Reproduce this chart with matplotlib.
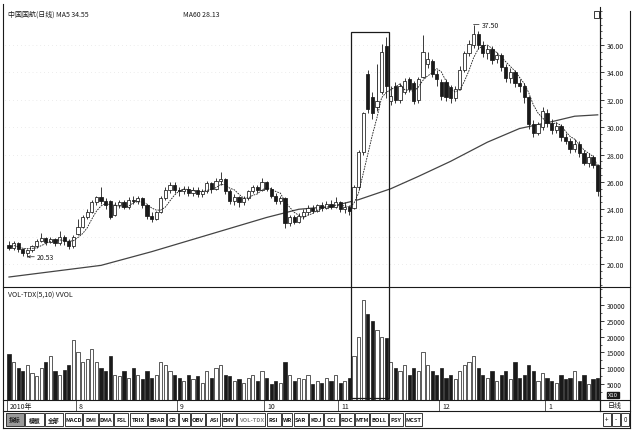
import matplotlib

matplotlib.use("Agg")
import matplotlib.pyplot as plt
import pandas as pd
from matplotlib.patches import Rectangle
from matplotlib.lines import Line2D
from matplotlib.ticker import MultipleLocator, FixedLocator
from matplotlib.transforms import blended_transform_factory

plt.rcParams["font.family"] = ["Noto Sans CJK SC", "DejaVu Sans"]

# daily candles, Jul 2010 - Jan 2011
opens = [21.4, 21.2, 21.5, 21.1, 20.8, 21.0, 21.3, 21.7, 21.9, 21.6, 21.8, 21.5, 22.0, 21.7, 21.3,
         22.2, 22.7, 23.4, 23.8, 24.5, 24.9, 24.6, 24.6, 23.6, 24.3, 24.5, 24.2, 24.7, 24.6, 24.8,
         24.3, 23.5, 23.3, 23.8, 24.8, 25.4, 25.8, 25.4, 25.3, 25.5, 25.2, 25.4, 25.1, 25.3, 25.9,
         25.5, 26.1, 26.2, 25.3, 24.6, 24.9, 24.5, 24.8, 25.3, 25.6, 25.4, 26.0, 25.5, 25.0, 24.6,
         24.8, 23.0, 23.4, 23.1, 23.5, 23.8, 24.1, 23.9, 24.3, 24.1, 24.4, 24.2, 24.5, 24.0, 24.2,
         24.1, 25.6, 28.2, 33.9, 32.2, 31.5, 32.6, 35.9, 31.9, 33.0, 32.0, 32.6, 33.5, 33.2, 32.0,
         33.7, 34.6, 34.8, 33.9, 33.3, 33.3, 32.9, 32.1, 32.8, 34.2, 35.4, 36.0, 36.8, 36.0, 35.4,
         35.7, 35.0, 35.3, 34.4, 33.6, 34.0, 33.2, 33.0, 32.2, 30.2, 29.6, 30.0, 31.0, 30.3, 29.8,
         30.1, 29.3, 29.0, 28.4, 28.8, 28.1, 27.4, 27.8, 27.2]
closes = [21.2, 21.5, 21.1, 20.8, 21.0, 21.3, 21.7, 21.9, 21.6, 21.8, 21.5, 22.0, 21.7, 21.3, 22.0,
          22.7, 23.4, 23.8, 24.5, 24.9, 24.6, 24.3, 23.4, 24.3, 24.5, 24.2, 24.7, 24.6, 24.8, 24.3,
          23.5, 23.3, 23.8, 24.8, 25.4, 25.8, 25.4, 25.3, 25.5, 25.2, 25.4, 25.1, 25.3, 25.9, 25.5,
          26.1, 26.2, 25.3, 24.6, 24.9, 24.5, 24.8, 25.3, 25.6, 25.4, 26.0, 25.5, 25.0, 24.6, 24.8,
          23.0, 23.4, 23.1, 23.5, 23.8, 24.1, 23.9, 24.3, 24.1, 24.4, 24.2, 24.5, 24.0, 24.2, 23.9,
          25.6, 28.2, 31.0, 31.3, 31.0, 31.9, 35.5, 33.0, 32.3, 32.0, 33.0, 33.4, 32.8, 31.9, 33.5,
          35.5, 35.0, 33.9, 33.5, 32.3, 32.2, 32.1, 32.8, 34.2, 35.4, 36.1, 36.8, 36.0, 35.4, 35.7,
          34.9, 35.3, 34.4, 33.6, 34.0, 33.2, 33.0, 32.2, 30.2, 29.6, 30.2, 31.2, 30.3, 29.8, 30.1,
          29.3, 29.0, 28.4, 28.8, 28.1, 27.4, 27.8, 27.2, 25.3]
highs = [21.7, 21.7, 21.6, 21.2, 21.1, 21.4, 21.8, 22.3, 22.0, 22.0, 21.9, 22.4, 22.1, 21.8, 22.1,
         23.3, 23.6, 24.0, 24.7, 25.0, 25.6, 24.8, 24.7, 24.5, 24.7, 24.7, 24.9, 25.0, 25.0, 24.9,
         24.4, 23.8, 23.9, 25.0, 25.6, 26.0, 26.0, 25.6, 25.7, 25.7, 25.6, 25.6, 25.5, 26.1, 26.0,
         26.3, 26.7, 26.3, 25.5, 25.1, 25.0, 25.0, 25.4, 25.8, 25.8, 26.3, 26.1, 25.6, 25.2, 25.0,
         24.9, 23.6, 23.6, 23.7, 24.0, 24.3, 24.3, 24.4, 24.5, 24.6, 24.7, 24.9, 24.6, 24.5, 24.3,
         25.8, 28.3, 31.1, 34.2, 32.6, 34.6, 36.1, 36.6, 33.0, 33.3, 33.2, 33.6, 33.7, 33.4, 33.7,
         36.7, 35.5, 35.0, 34.2, 33.5, 33.5, 33.1, 33.0, 34.5, 35.6, 36.4, 37.5, 37.0, 36.3, 36.0,
         35.9, 35.5, 35.4, 34.6, 34.3, 34.2, 33.5, 33.2, 32.3, 30.5, 30.4, 31.5, 31.3, 30.6, 30.4,
         30.2, 29.6, 29.2, 29.1, 29.0, 28.3, 28.1, 28.0, 27.3]
lows = [21.0, 21.0, 20.9, 20.6, 20.53, 20.9, 21.2, 21.6, 21.4, 21.5, 21.3, 21.4, 21.4, 21.1, 21.2,
        22.1, 22.6, 23.3, 23.7, 24.3, 24.4, 24.0, 23.3, 23.5, 24.1, 24.0, 24.0, 24.4, 24.4, 24.1,
        23.3, 23.1, 23.2, 23.7, 24.7, 25.2, 25.2, 25.0, 25.1, 25.0, 25.0, 24.9, 24.9, 25.2, 25.2,
        25.4, 25.8, 25.1, 24.4, 24.3, 24.2, 24.3, 24.7, 25.2, 25.2, 25.3, 25.3, 24.8, 24.4, 24.4,
        22.6, 22.8, 22.9, 23.0, 23.3, 23.6, 23.7, 23.8, 23.9, 24.0, 24.0, 24.1, 23.8, 23.7, 23.6,
        24.0, 25.5, 28.0, 31.0, 30.6, 31.2, 32.4, 32.1, 31.6, 31.8, 31.8, 32.4, 32.6, 31.7, 31.8,
        33.6, 34.3, 33.7, 33.0, 32.0, 31.9, 31.8, 31.9, 32.7, 34.0, 35.2, 35.8, 35.7, 35.1, 35.0,
        34.6, 34.7, 34.1, 33.3, 33.2, 32.9, 32.6, 31.8, 29.9, 29.3, 29.4, 29.8, 30.0, 29.5, 29.6,
        29.0, 28.8, 28.1, 28.2, 27.8, 27.2, 27.1, 27.0, 25.0]
volumes = [14500, 12000, 10000, 9000, 11000, 8500, 7500, 10000, 12000, 14000, 9000, 8000, 9500, 11000, 19000,
           15000, 12000, 13000, 16000, 12000, 10000, 9000, 14000, 8000, 7500, 9000, 7000, 10000, 8000, 6500,
           9000, 7000, 8000, 12000, 11000, 9000, 8000, 7000, 6000, 8000, 6500, 7500, 5500, 9000, 7000,
           10000, 11000, 8000, 7500, 6000, 6500, 5500, 7000, 8000, 6000, 9000, 7000, 5000, 6000, 5500,
           12000, 8000, 6000, 7000, 6500, 8000, 5000, 6000, 5500, 7000, 6000, 8000, 5500, 6000, 7000,
           14000, 20000, 31500, 27000, 25000, 22000, 20000, 19500, 12000, 10000, 9000, 11000, 8000, 10000, 9000,
           15000, 11000, 9000, 8000, 10000, 7000, 8000, 6500, 9000, 11000, 12000, 14000, 10000, 8000, 7000,
           9000, 6000, 8000, 9000, 6500, 12000, 7000, 8000, 11000, 9000, 6000, 8500, 7000, 6000, 5500,
           8000, 6500, 7000, 9000, 6000, 8000, 5000, 6500, 7000]

# long moving average, read at a few points
ma60_idx = [0, 20, 31, 41, 56, 63, 70, 76, 83, 89, 96, 104, 111, 118, 123, 128]
ma60_val = [19.05, 19.9, 20.9, 21.9, 23.4, 24.0, 24.2, 24.7, 25.5, 26.4, 27.5, 28.9, 29.9, 30.4, 30.8, 30.9]

month_labels = ["2010年", "8", "9", "10", "11", "12", "1"]
month_start = [0, 15, 37, 56, 72, 94, 117]
price_ticks = [20, 22, 24, 26, 28, 30, 32, 34, 36]
vol_ticks = [5000, 10000, 15000, 20000, 25000, 30000]
tabs = ["指标", "模板", "全部", "MACD", "DMI", "DMA", "FSL", "TRIX", "BRAR", "CR", "VR", "OBV",
        "ASI", "EMV", "VOL-TDX", "RSI", "WR", "SAR", "KDJ", "CCI", "ROC", "MTM", "BOLL", "PSY", "MCST"]
box_first, box_last = 75, 82

W, H = 640, 435
INK = "#1a1a1a"


def fx(px):
    return px / W


def fy(py):
    return 1 - py / H


def fline(fig, x0, y0, x1, y1, lw=0.8, color=INK):
    fig.add_artist(Line2D([fx(x0), fx(x1)], [fy(y0), fy(y1)], lw=lw, color=color,
                          transform=fig.transFigure))


fig = plt.figure(figsize=(W / 100, H / 100), dpi=100)
fig.patch.set_facecolor("white")

n = len(closes)
x = list(range(n))
xlim = (-0.87, 128.5)

ax = fig.add_axes([fx(5), fy(288), fx(600) - fx(5), fy(8) - fy(288)])
axv = fig.add_axes([fx(5), fy(401), fx(600) - fx(5), fy(288) - fy(401)])
axd = fig.add_axes([fx(5), fy(412), fx(600) - fx(5), fy(401) - fy(412)])

for a in (ax, axv, axd):
    a.set_xlim(*xlim)
    a.set_facecolor("white")
    for s in ("top", "bottom", "left"):
        a.spines[s].set_visible(False)
    a.spines["right"].set_color(INK)
    a.spines["right"].set_linewidth(0.8)
    a.set_xticks([])

# candles
up = [c >= o for o, c in zip(opens, closes)]
ax.vlines(x, lows, highs, color=INK, lw=0.6, zorder=2)
bodies = [max(abs(c - o), 0.04) for o, c in zip(opens, closes)]
ax.bar(x, bodies, bottom=[min(o, c) for o, c in zip(opens, closes)], width=0.7,
       color=["white" if u else INK for u in up], edgecolor=INK, linewidth=0.55, zorder=3)

ma5 = pd.Series(closes).rolling(5, min_periods=1).mean()
ax.plot(x, ma5, color=INK, lw=0.6, ls=(0, (2, 1.2)), zorder=4)
ax.plot(ma60_idx, ma60_val, color="#444444", lw=0.9, zorder=1)

ax.set_ylim(18.32, 38.78)
ax.yaxis.tick_right()
ax.yaxis.set_major_locator(FixedLocator(price_ticks))
ax.yaxis.set_minor_locator(MultipleLocator(0.5))
ax.set_yticklabels([f"{t:.2f}" for t in price_ticks])
ax.tick_params(axis="y", which="major", direction="out", length=3, width=0.6, pad=2,
               labelsize=5, colors=INK)
ax.tick_params(axis="y", which="minor", direction="out", length=1.5, width=0.5, colors=INK)
for t in price_ticks:
    ax.axhline(t, color="#c8c8c8", lw=0.4, ls=(0, (1, 6)), zorder=0)

ax.annotate("37.50", xy=(101, 37.5), xytext=(6, 0), textcoords="offset points",
            fontsize=5, va="center", color=INK,
            arrowprops=dict(arrowstyle="-", lw=0.5, color=INK, shrinkA=0, shrinkB=0))
ax.annotate("20.53", xy=(4, 20.53), xytext=(7, 0), textcoords="offset points",
            fontsize=5, va="center", color=INK,
            arrowprops=dict(arrowstyle="->", lw=0.5, color=INK, shrinkA=0, shrinkB=0,
                            mutation_scale=4))

# volume
axv.bar(x, volumes, width=0.7, color=["white" if u else INK for u in up],
        edgecolor=INK, linewidth=0.5)
axv.set_ylim(0, 35680)
axv.yaxis.tick_right()
axv.yaxis.set_major_locator(FixedLocator(vol_ticks))
axv.yaxis.set_minor_locator(MultipleLocator(2500))
axv.set_yticklabels([str(t) for t in vol_ticks])
axv.tick_params(axis="y", which="major", direction="out", length=3, width=0.6, pad=2,
                labelsize=4.8, colors=INK)
axv.tick_params(axis="y", which="minor", direction="out", length=1.5, width=0.5, colors=INK)

# highlight box over the breakout, spanning price and volume panels
btr = blended_transform_factory(ax.transData, fig.transFigure)
fig.add_artist(Rectangle((box_first - 0.6, fy(399)), box_last - box_first + 1.2, fy(33) - fy(399),
                         transform=btr, fill=False, lw=0.9, edgecolor=INK, zorder=10))

# date strip
axd.set_ylim(0, 1)
axd.set_yticks([])
for m, lab in zip(month_start, month_labels):
    axd.plot([m - 0.5, m - 0.5], [0, 1], color=INK, lw=0.5)
    axd.text(m + 0.2, 0.45, lab, fontsize=5, va="center", ha="left", color=INK)

# frame lines
fline(fig, 3, 5, 3, 429)
fline(fig, 630, 12, 630, 429)
fline(fig, 600, 12, 600, 412)
fline(fig, 3, 288, 630, 288)
fline(fig, 3, 401, 630, 401)
fline(fig, 3, 412, 630, 412)
fline(fig, 3, 429, 630, 429)
fig.add_artist(Rectangle((fx(594), fy(19)), fx(5), fy(12) - fy(19), fill=False, lw=0.6,
                         edgecolor=INK, transform=fig.transFigure))

# header texts
fig.text(fx(8), fy(15), "中国国航(日线) MA5 34.55", fontsize=5, va="center", color=INK)
fig.text(fx(183), fy(15), "MA60 28.13", fontsize=5, va="center", color=INK)
fig.text(fx(8), fy(296), "VOL-TDX(5,10) VVOL", fontsize=5, va="center", color=INK)
fig.text(fx(613), fy(396), "X10", fontsize=4.3, va="center", ha="center", color="white",
         bbox=dict(boxstyle="square,pad=0.12", fc=INK, ec=INK))
fig.text(fx(615), fy(406.5), "日线", fontsize=5, va="center", ha="center", color=INK)

# indicator tab bar
raw_w = [5 + sum(8 if ord(c) > 255 else 3.8 for c in t) for t in tabs]
scale = (423 - 5) / sum(raw_w)
left = 5
for i, t in enumerate(tabs):
    w = raw_w[i] * scale
    fig.add_artist(Rectangle((fx(left + 0.6), fy(427)), fx(w - 1.2), fy(414) - fy(427),
                             fill=True, fc="#9a9a9a" if i == 0 else "white", lw=0.6,
                             edgecolor=INK, transform=fig.transFigure))
    fig.text(fx(left + w / 2), fy(420.5), t, fontsize=4.2, ha="center", va="center",
             weight="bold", color="#888888" if t == "VOL-TDX" else INK)
    left += w
for j, s in enumerate(["+", "-", "0"]):
    bx = 603 + j * 9
    fig.add_artist(Rectangle((fx(bx), fy(427)), fx(8), fy(414) - fy(427), fill=False, lw=0.6,
                             edgecolor=INK, transform=fig.transFigure))
    fig.text(fx(bx + 4), fy(420.5), s, fontsize=4.5, ha="center", va="center", color=INK)

fig.savefig("out.png", dpi=100, facecolor="white")
plt.close(fig)
